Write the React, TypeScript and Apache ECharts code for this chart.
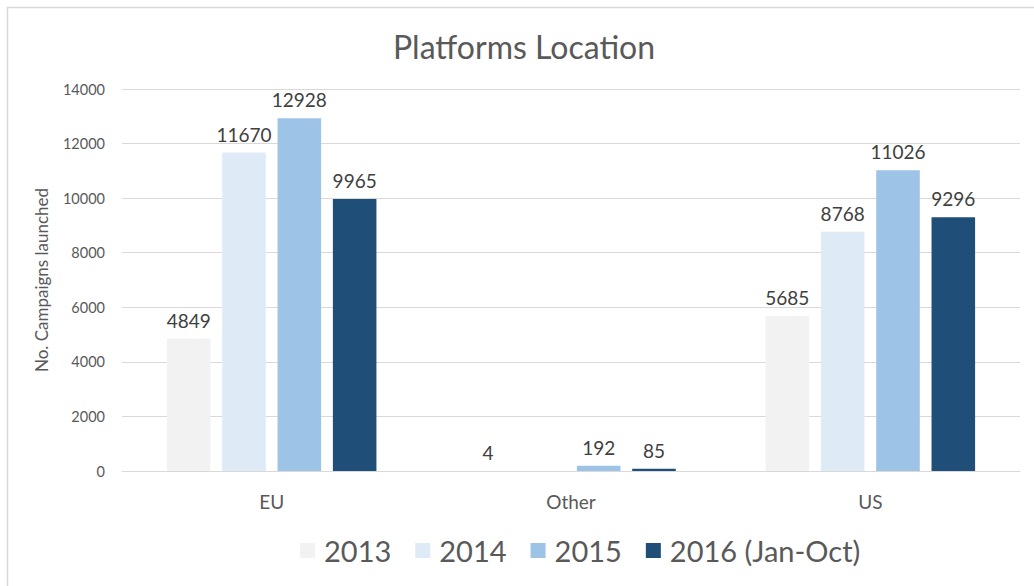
import React, { useEffect, useRef } from "react";
import * as echarts from "echarts";

const categories = ["EU", "Other", "US"];
const seriesNames = ["2013", "2014", "2015", "2016 (Jan-Oct)"];
const values2013 = [4849, 4, 5685];
const values2014 = [11670, null, 8768];
const values2015 = [12928, 192, 11026];
const values2016 = [9965, 85, 9296];
const seriesColors = ["#F2F2F2", "#DEEBF7", "#9DC3E6", "#1F4E79"];
const yTicks = { min: 0, max: 14000, interval: 2000 };

const FONT = "Lato, 'Open Sans', sans-serif";

export default function App() {
  const ref = useRef<HTMLDivElement>(null);
  useEffect(() => {
    if (!ref.current) return;
    const chart = echarts.init(ref.current, null, { renderer: "svg" });
    const all = [values2013, values2014, values2015, values2016];
    chart.setOption({
      animation: false,
      backgroundColor: "#ffffff",
      textStyle: { fontFamily: FONT },
      title: {
        text: "Platforms Location",
        left: 388,
        top: 25,
        textStyle: { fontFamily: FONT, fontSize: 32, fontWeight: "normal", color: "#595959" },
      },
      graphic: [
        {
          type: "rect",
          shape: { x: 7.5, y: 7.5, width: 1040, height: 600 },
          style: { fill: "none", stroke: "#d9d9d9", lineWidth: 1.5 },
          silent: true,
        },
      ],
      legend: {
        bottom: 16,
        left: 295,
        itemWidth: 15,
        itemHeight: 15,
        itemGap: 24,
        icon: "rect",
        textStyle: { fontFamily: FONT, fontSize: 29, color: "#595959", padding: [0, 0, 0, 4] },
        data: seriesNames,
      },
      grid: { left: 122, right: 14, top: 89, bottom: 115 },
      xAxis: {
        type: "category",
        data: categories,
        axisLine: { lineStyle: { color: "#d9d9d9" } },
        axisTick: { show: false },
        axisLabel: { fontFamily: FONT, fontSize: 19, color: "#595959", margin: 21 },
      },
      yAxis: {
        type: "value",
        min: yTicks.min,
        max: yTicks.max,
        interval: yTicks.interval,
        name: "No. Campaigns launched",
        nameLocation: "middle",
        nameGap: 72,
        nameRotate: 90,
        nameTextStyle: { fontFamily: FONT, fontSize: 17, color: "#595959" },
        axisLine: { show: false },
        axisTick: { show: false },
        splitLine: { lineStyle: { color: "#d9d9d9" } },
        axisLabel: {
          fontFamily: FONT,
          fontSize: 14.5,
          color: "#595959",
          margin: 17,
          formatter: (v: number) => String(v),
        },
      },
      series: seriesNames.map((name, i) => ({
        name,
        type: "bar",
        data: all[i],
        barGap: "27%",
        barCategoryGap: "30%",
        itemStyle: { color: seriesColors[i] },
        label: {
          show: true,
          position: "top",
          distance: 9,
          fontFamily: FONT,
          fontSize: 19,
          color: "#404040",
        },
      })),
    });
    return () => chart.dispose();
  }, []);
  return <div ref={ref} style={{ position: "fixed", left: 0, top: 0, width: 1034, height: 586 }} />;
}
